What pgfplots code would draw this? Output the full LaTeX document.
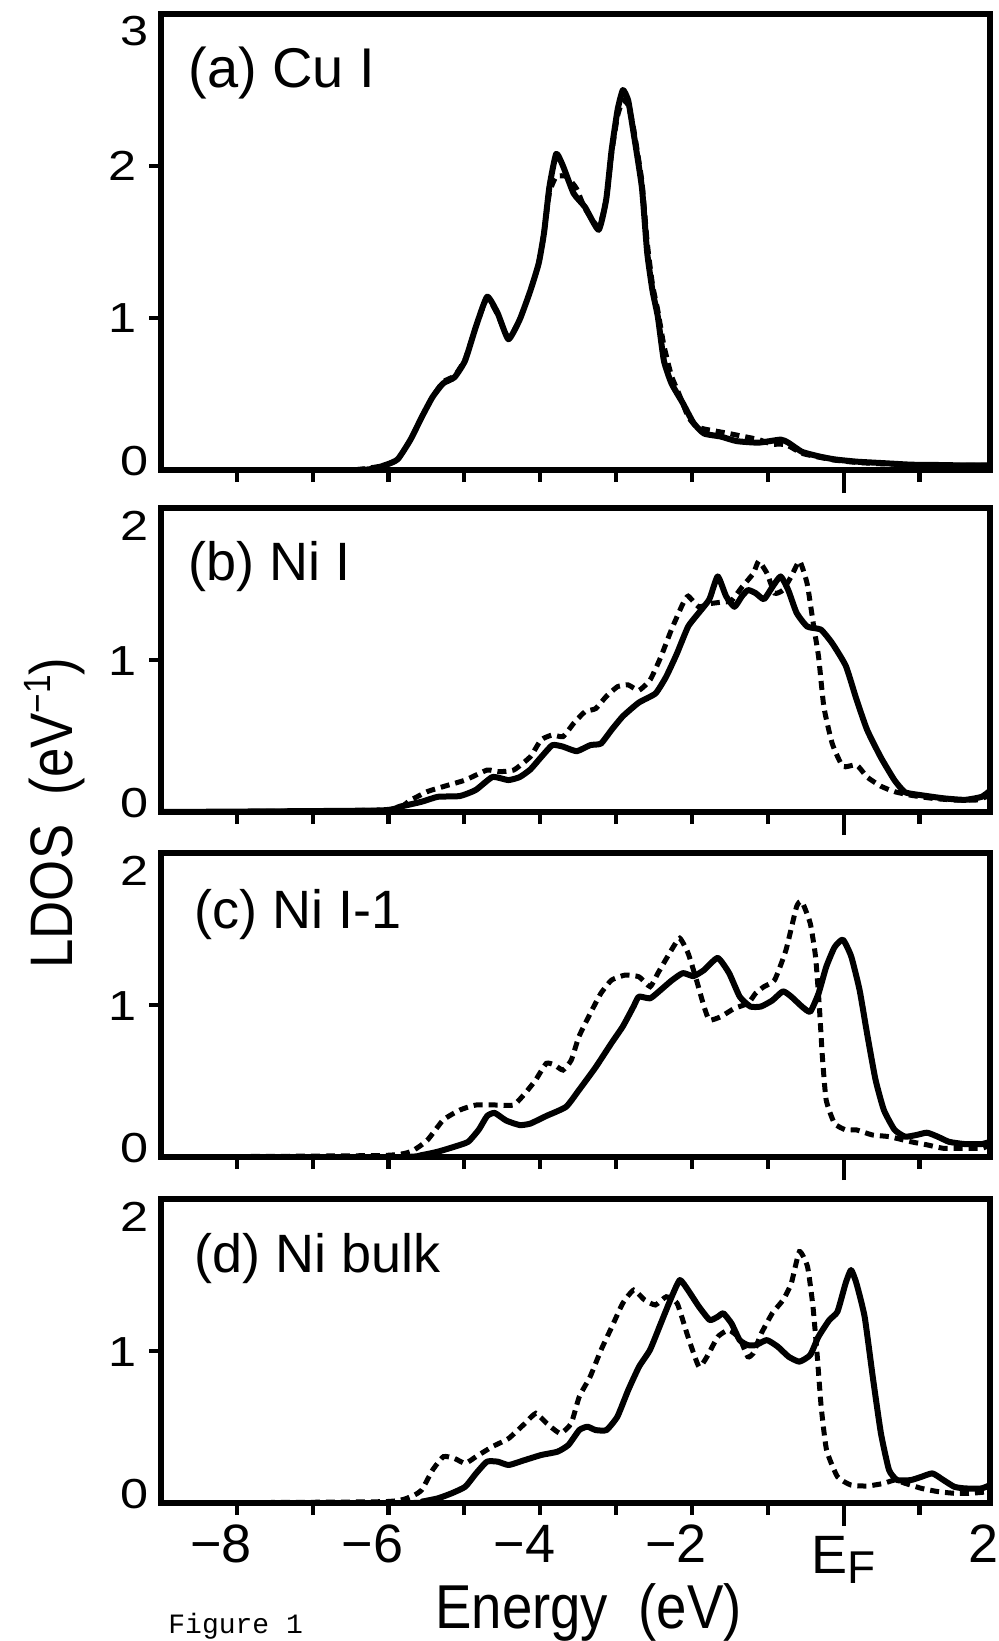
\documentclass[border=0pt]{standalone}
\usepackage{fontspec}
\setmainfont{Liberation Sans}
\newfontfamily\condfont[FakeStretch=0.88]{Liberation Sans}
\newfontfamily\widefont[FakeStretch=1.2]{Liberation Sans}
\newfontfamily\monofont{Liberation Mono}
\usepackage{pgfplots}
\pgfplotsset{compat=1.18}

% tick label with zero height, glyph moved by #1
\newcommand{\yl}[2]{\raisebox{#1}[0pt][0pt]{#2}}

\pgfplotsset{
  ldos/.style={
    scale only axis,
    width=414.5pt,
    anchor=south west,
    xmin=-9, xmax=1.93,
    ymin=0,
    axis line style={line width=3pt},
    tick align=outside,
    xtick pos=left, ytick pos=left,
    major tick length=6pt,
    tick style={line width=2.1pt, black},
    xtick={-8,-7,-6,-5,-4,-3,-2,-1,1},
    xticklabels={},
    extra x ticks={0},
    extra x tick labels={},
    extra x tick style={major tick length=11.5pt},
    extra y tick style={major tick length=0pt},
    yticklabel style={font=\widefont\fontsize{21}{21}\selectfont, inner sep=0pt, anchor=east, xshift=-6pt},
    xticklabel style={font=\fontsize{27}{27}\selectfont, inner sep=0pt, anchor=base, yshift=-23.5pt},
  },
  scurve/.style={black, line width=3pt, smooth, tension=0.3, line join=round},
  dcurve/.style={black, line width=2.5pt, dash pattern=on 4.5pt off 3pt, smooth, tension=0.3},
}

\begin{document}
\begin{tikzpicture}

% (a) Cu I
\begin{axis}[ldos, at={(80.5pt,-235pt)}, height=228pt, ymax=3,
  ytick={1,2}, yticklabels={\yl{-7.5pt}{1},\yl{-7.5pt}{2}},
  extra y ticks={0,3}, extra y tick labels={\yl{-2.5pt}{0},\yl{-16pt}{3}}]
\addplot[dcurve] coordinates {
(-9,0) (-6.6,0.0) (-6.3,0.01) (-6.06,0.03) (-5.88,0.07) (-5.71,0.2) (-5.56,0.35)
(-5.42,0.48) (-5.28,0.58) (-5.13,0.62) (-4.99,0.73) (-4.85,0.94) (-4.70,1.13)
(-4.56,1.02) (-4.42,0.87) (-4.27,0.99) (-4.13,1.18) (-4.02,1.36) (-3.95,1.56)
(-3.88,1.82) (-3.79,1.93) (-3.65,1.93) (-3.52,1.85) (-3.41,1.72) (-3.23,1.60)
(-3.13,1.78) (-3.06,2.08) (-2.98,2.33) (-2.91,2.43) (-2.84,2.40) (-2.77,2.25)
(-2.66,1.90) (-2.59,1.50) (-2.52,1.22) (-2.45,1.05) (-2.37,0.82) (-2.27,0.62)
(-2.17,0.50) (-2.05,0.35) (-1.95,0.29) (-1.84,0.27) (-1.62,0.25) (-1.41,0.23)
(-1.12,0.20) (-0.95,0.17) (-0.83,0.17) (-0.73,0.16) (-0.55,0.11) (-0.33,0.085)
(-0.12,0.065) (0.17,0.05) (0.53,0.04) (0.89,0.035) (1.24,0.03) (1.6,0.03) (1.93,0.03)
};
\addplot[scurve] coordinates {
(-9,0) (-6.4,0) (-6.06,0.03) (-5.88,0.07) (-5.71,0.2) (-5.56,0.35) (-5.42,0.48)
(-5.28,0.57) (-5.13,0.61) (-4.99,0.72) (-4.85,0.94) (-4.70,1.14) (-4.56,1.03)
(-4.42,0.86) (-4.27,0.99) (-4.13,1.18) (-4.02,1.36) (-3.95,1.56) (-3.88,1.86)
(-3.79,2.08) (-3.70,2.00) (-3.56,1.82) (-3.41,1.73) (-3.23,1.58) (-3.13,1.78)
(-3.06,2.10) (-2.98,2.37) (-2.91,2.50) (-2.84,2.43) (-2.77,2.22) (-2.66,1.86)
(-2.59,1.43) (-2.52,1.18) (-2.45,1.01) (-2.37,0.72) (-2.27,0.57) (-2.12,0.44)
(-1.98,0.31) (-1.84,0.24) (-1.62,0.22) (-1.41,0.19) (-1.12,0.18) (-0.83,0.2)
(-0.73,0.18) (-0.55,0.12) (-0.33,0.09) (-0.12,0.07) (0.17,0.055) (0.53,0.045)
(0.89,0.035) (1.24,0.033) (1.6,0.03) (1.93,0.03)
};
\end{axis}

% (b) Ni I
\begin{axis}[ldos, at={(80.5pt,-406pt)}, height=152pt, ymax=2,
  ytick={1}, yticklabels={\yl{-7.5pt}{1}},
  extra y ticks={0,2}, extra y tick labels={\yl{-2.5pt}{0},\yl{-16pt}{2}}]
\addplot[dcurve] coordinates {
(-9,0) (-6.06,0.013) (-5.71,0.079) (-5.49,0.134) (-5.28,0.167) (-4.99,0.21)
(-4.70,0.276) (-4.56,0.265) (-4.35,0.276) (-4.13,0.364) (-3.99,0.474) (-3.84,0.507)
(-3.70,0.496) (-3.56,0.583) (-3.41,0.66) (-3.27,0.68) (-3.13,0.76) (-2.98,0.825)
(-2.84,0.836) (-2.70,0.80) (-2.55,0.87) (-2.41,1.02) (-2.27,1.20) (-2.12,1.37)
(-2.05,1.42) (-1.91,1.35) (-1.77,1.37) (-1.62,1.38) (-1.48,1.39) (-1.34,1.48)
(-1.19,1.57) (-1.12,1.65) (-1.01,1.57) (-0.91,1.44) (-0.80,1.46) (-0.69,1.55)
(-0.58,1.65) (-0.48,1.50) (-0.40,1.24) (-0.33,1.02) (-0.26,0.69) (-0.15,0.45)
(-0.01,0.30) (0.17,0.31) (0.31,0.23) (0.49,0.17) (0.67,0.134) (0.89,0.11)
(1.17,0.09) (1.46,0.079) (1.75,0.079) (1.93,0.11)
};
\addplot[scurve] coordinates {
(-9,0) (-6.14,0.01) (-5.85,0.035) (-5.56,0.068) (-5.35,0.1) (-5.06,0.105)
(-4.85,0.145) (-4.63,0.23) (-4.42,0.21) (-4.27,0.23) (-4.13,0.28) (-3.99,0.36)
(-3.84,0.44) (-3.70,0.43) (-3.52,0.40) (-3.34,0.44) (-3.20,0.45) (-3.06,0.54)
(-2.91,0.63) (-2.70,0.72) (-2.48,0.78) (-2.34,0.89) (-2.20,1.04) (-2.05,1.22)
(-1.91,1.31) (-1.77,1.40) (-1.66,1.55) (-1.55,1.42) (-1.44,1.35) (-1.34,1.42)
(-1.26,1.46) (-1.16,1.44) (-1.05,1.40) (-0.94,1.48) (-0.83,1.55) (-0.73,1.46)
(-0.62,1.31) (-0.48,1.22) (-0.30,1.20) (-0.15,1.11) (0.03,0.96) (0.17,0.74)
(0.31,0.54) (0.49,0.36) (0.67,0.21) (0.81,0.13) (1.03,0.11) (1.32,0.09)
(1.60,0.08) (1.82,0.10) (1.93,0.14)
};
\end{axis}

% (c) Ni I-1
\begin{axis}[ldos, at={(80.5pt,-578.5pt)}, height=152pt, ymax=2,
  ytick={1}, yticklabels={\yl{-7.5pt}{1}},
  extra y ticks={0,2}, extra y tick labels={\yl{-2.5pt}{0},\yl{-16pt}{2}}]
\addplot[dcurve] coordinates {
(-9,0) (-6.1,0.01) (-5.71,0.035) (-5.49,0.11) (-5.28,0.243) (-5.06,0.309)
(-4.85,0.342) (-4.56,0.342) (-4.35,0.342) (-4.20,0.419) (-4.06,0.507) (-3.92,0.616)
(-3.81,0.605) (-3.70,0.572) (-3.59,0.638) (-3.49,0.792) (-3.34,0.945) (-3.20,1.077)
(-3.06,1.164) (-2.88,1.197) (-2.70,1.186) (-2.55,1.121) (-2.45,1.208) (-2.27,1.362)
(-2.16,1.439) (-2.05,1.340) (-1.94,1.164) (-1.84,0.989) (-1.77,0.901) (-1.62,0.923)
(-1.44,0.978) (-1.26,1.011) (-1.16,1.077) (-1.05,1.121) (-0.91,1.164) (-0.76,1.362)
(-0.62,1.647) (-0.55,1.680) (-0.44,1.537) (-0.37,1.318) (-0.32,0.989) (-0.28,0.66)
(-0.23,0.375) (-0.12,0.221) (0.03,0.178) (0.17,0.178) (0.38,0.145) (0.60,0.134)
(0.89,0.10) (1.10,0.08) (1.32,0.057) (1.60,0.057) (1.82,0.057) (1.93,0.08)
};
\addplot[scurve] coordinates {
(-9,0) (-5.85,0) (-5.56,0.013) (-5.35,0.035) (-5.13,0.068) (-4.95,0.10) (-4.81,0.18)
(-4.70,0.27) (-4.60,0.29) (-4.45,0.24) (-4.27,0.21) (-4.13,0.22) (-3.92,0.27)
(-3.66,0.33) (-3.49,0.44) (-3.27,0.59) (-3.06,0.75) (-2.91,0.86) (-2.77,0.99)
(-2.70,1.055) (-2.55,1.044) (-2.41,1.10) (-2.27,1.16) (-2.12,1.21) (-1.98,1.19)
(-1.84,1.23) (-1.66,1.31) (-1.51,1.21) (-1.37,1.055) (-1.23,0.99) (-1.09,0.99)
(-0.94,1.03) (-0.80,1.09) (-0.69,1.055) (-0.55,0.99) (-0.44,0.956) (-0.33,1.077)
(-0.23,1.25) (-0.12,1.38) (-0.01,1.43) (0.10,1.32) (0.21,1.10) (0.31,0.81)
(0.42,0.51) (0.53,0.31) (0.67,0.18) (0.81,0.134) (0.96,0.145) (1.10,0.16)
(1.24,0.134) (1.39,0.10) (1.60,0.085) (1.82,0.085) (1.93,0.10)
};
\end{axis}

% (d) Ni bulk
\begin{axis}[ldos, at={(80.5pt,-751.5pt)}, height=152pt, ymax=2,
  ytick={1}, yticklabels={\yl{-7.5pt}{1}},
  extra y ticks={0,2}, extra y tick labels={\yl{-2.5pt}{0},\yl{-16pt}{2}},
  xticklabels={\llap{−}8,,\llap{−}6,,\llap{−}4,,\llap{−}2,,},
  extra x tick labels={E\raisebox{-5pt}{\fontsize{23}{23}\selectfont F}}]
\addplot[dcurve] coordinates {
(-9,0) (-6.064,0.009) (-5.706,0.042) (-5.563,0.086) (-5.419,0.217) (-5.276,0.305)
(-5.133,0.294) (-4.989,0.261) (-4.846,0.305) (-4.631,0.371) (-4.416,0.425)
(-4.201,0.524) (-4.058,0.590) (-3.915,0.524) (-3.736,0.458) (-3.592,0.524)
(-3.485,0.700) (-3.342,0.831) (-3.198,1.007) (-3.055,1.160) (-2.912,1.314)
(-2.768,1.401) (-2.625,1.336) (-2.482,1.303) (-2.338,1.357) (-2.195,1.314)
(-2.052,1.094) (-1.908,0.897) (-1.801,0.963) (-1.658,1.094) (-1.514,1.138)
(-1.371,1.083) (-1.264,0.963) (-1.192,0.985) (-1.085,1.116) (-0.941,1.248)
(-0.798,1.336) (-0.690,1.445) (-0.583,1.654) (-0.476,1.555) (-0.404,1.292)
(-0.347,0.963) (-0.296,0.634) (-0.225,0.349) (-0.081,0.173) (0.098,0.118)
(0.313,0.112) (0.528,0.129) (0.671,0.151) (0.814,0.129) (1.029,0.096)
(1.244,0.075) (1.459,0.064) (1.674,0.064) (1.93,0.075)
};
\addplot[scurve] coordinates {
(-9,0) (-5.7,0) (-5.563,0.009) (-5.348,0.031) (-5.168,0.064) (-4.989,0.107)
(-4.846,0.195) (-4.703,0.272) (-4.559,0.272) (-4.416,0.25) (-4.201,0.283)
(-3.986,0.316) (-3.771,0.338) (-3.628,0.382) (-3.485,0.480) (-3.377,0.502)
(-3.270,0.480) (-3.127,0.480) (-2.983,0.568) (-2.840,0.743) (-2.697,0.897)
(-2.553,1.007) (-2.410,1.182) (-2.267,1.357) (-2.159,1.467) (-2.052,1.401)
(-1.908,1.292) (-1.765,1.204) (-1.658,1.226) (-1.586,1.248) (-1.479,1.182)
(-1.371,1.072) (-1.264,1.039) (-1.156,1.039) (-1.013,1.072) (-0.869,1.029)
(-0.726,0.963) (-0.583,0.930) (-0.440,0.974) (-0.332,1.094) (-0.189,1.204)
(-0.081,1.259) (0.026,1.445) (0.098,1.533) (0.169,1.445) (0.277,1.226)
(0.384,0.831) (0.492,0.458) (0.599,0.217) (0.707,0.151) (0.886,0.151)
(1.029,0.173) (1.172,0.195) (1.316,0.151) (1.459,0.107) (1.602,0.096)
(1.817,0.096) (1.93,0.118)
};
\end{axis}

% panel labels
\node[anchor=base west, inner sep=0pt, font=\fontsize{28}{28}\selectfont] at (94pt,-44pt) {(a) Cu I};
\node[anchor=base west, inner sep=0pt, font=\fontsize{27}{27}\selectfont] at (94pt,-290pt) {(b) Ni I};
\node[anchor=base west, inner sep=0pt, font=\fontsize{27}{27}\selectfont] at (97pt,-464pt) {(c) Ni I-1};
\node[anchor=base west, inner sep=0pt, font=\fontsize{27}{27}\selectfont] at (97pt,-636pt) {(d) Ni bulk};

% axis titles and the last tick label
\node[rotate=90, anchor=base, inner sep=0pt, font=\condfont\fontsize{30}{30}\selectfont]
  at (36pt,-406.5pt) {LDOS\ \ (eV\raisebox{11pt}{\fontsize{19}{19}\selectfont −1})};
\node[anchor=base west, inner sep=0pt, font=\condfont\fontsize{31}{31}\selectfont]
  at (217.5pt,-814pt) {Energy\ \ (eV)};
\node[anchor=base, inner sep=0pt, font=\fontsize{27}{27}\selectfont] at (491.5pt,-781pt) {2};
\node[anchor=base west, inner sep=0pt, font=\monofont\fontsize{14}{14}\selectfont]
  at (84pt,-816.5pt) {Figure 1};

\pgfresetboundingbox
\useasboundingbox (0,0) rectangle (499.5pt,-820.5pt);
\end{tikzpicture}
\end{document}
